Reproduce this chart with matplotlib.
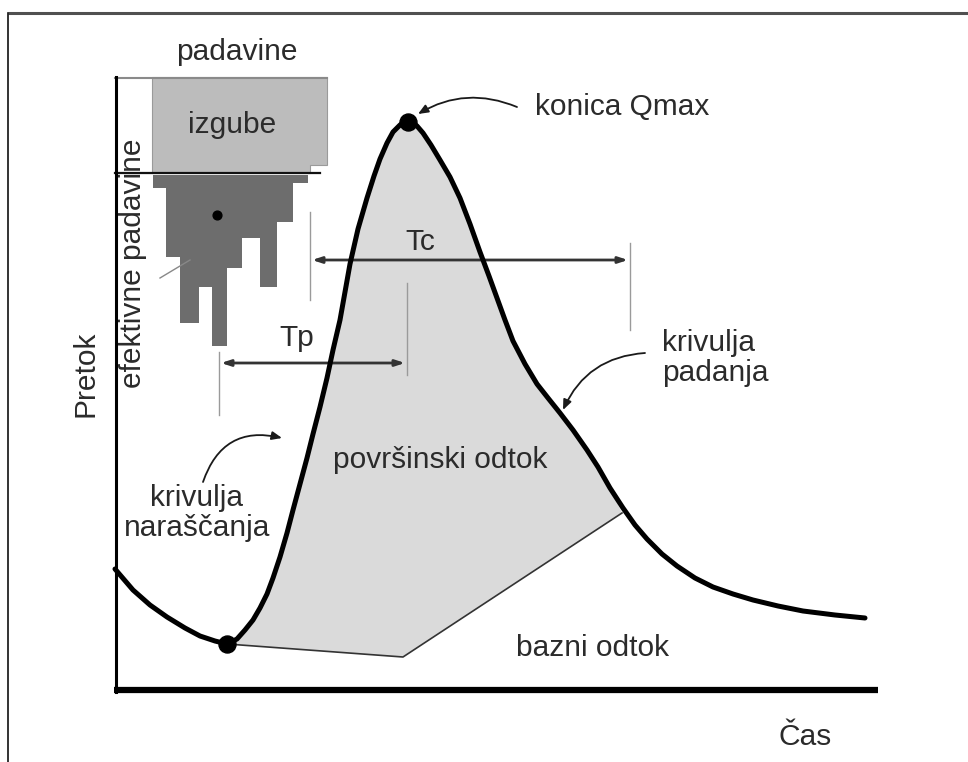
"""
Hidrogram: shematski prikaz odtoka po nalivu (padavine, izgube, Tp, Tc,
površinski in bazni odtok). Koordinate so odčitane s slike v pikslih.
"""

import matplotlib
matplotlib.use("Agg")
import matplotlib.pyplot as plt
from matplotlib.patches import Polygon

W, H = 968, 762
FONT = ["Liberation Sans", "DejaVu Sans"]
FS = 21.5
TXT = "#2b2b2b"

# Hidrogram (x, y v pikslih slike, y narašča navzdol)
curve_x = [115, 133, 150, 167, 185, 200, 215, 227, 237, 245, 253, 260, 267,
           273, 280, 287, 293, 300, 307, 313, 320, 327, 333, 340, 350, 358,
           367, 374, 380, 387, 393, 400, 404, 408, 412, 417, 423, 431, 440,
           450, 460, 470, 480, 489, 497, 505, 513, 525, 537, 548, 560, 573,
           587, 598, 610, 623, 635, 647, 662, 677, 695, 713, 733, 753, 778,
           803, 835, 865]
curve_y = [569, 590, 605, 617, 628, 636, 641, 644, 639, 630, 620, 608, 594,
           578, 557, 533, 510, 484, 458, 434, 407, 378, 350, 320, 264, 229,
           198, 176, 159, 143, 132, 125, 122, 121, 122, 126, 133, 145, 160,
           177, 198, 224, 252, 276, 298, 320, 341, 364, 384, 398, 413, 430,
           450, 467, 488, 508, 525, 539, 554, 566, 578, 587, 594, 600, 606,
           611, 615, 618]

# Ločnica baznega odtoka
base_x = [227, 403, 622]
base_y = [644, 657, 513]

# Padavine: izgube (svetlo siva) in efektivne padavine (temno siva)
loss_x = [152, 327, 327, 310, 310, 152]
loss_y = [77, 77, 165, 165, 173, 173]
eff_x = [153, 308, 308, 293, 293, 277, 277, 260, 260, 242, 242, 227, 227,
         212, 212, 199, 199, 180, 180, 166, 166, 153]
eff_y = [175, 175, 183, 183, 222, 222, 287, 287, 238, 238, 268, 268, 346,
         346, 287, 287, 323, 323, 257, 257, 188, 188]

# Točke: najnižja točka, konica Qmax, težišče efektivnih padavin
dots_x = [227, 408]
dots_y = [644, 122]
centroid = (217, 215)

# Časovni razponi (začetek, konec, višina puščice)
tc_span = (312, 628, 260)
tp_span = (221, 405, 363)
tc_ticks = [(310, 212, 300), (630, 243, 330)]
tp_ticks = [(219, 352, 415), (407, 283, 375)]


def besedilo(ax, x, y, s, **kw):
    opts = dict(fontsize=FS, color=TXT, family=FONT, ha="center", va="center")
    opts.update(kw)
    ax.text(x, y, s, **opts)


def puscica(ax, tail, head, rad):
    ax.annotate("", xy=head, xytext=tail,
                arrowprops=dict(arrowstyle="-|>,head_length=0.6,head_width=0.25",
                                connectionstyle=f"arc3,rad={rad}",
                                color="#1a1a1a", lw=1.3, shrinkA=0, shrinkB=0))


def razpon(ax, x0, x1, y):
    ax.annotate("", xy=(x1, y), xytext=(x0, y),
                arrowprops=dict(arrowstyle="<|-|>,head_length=0.55,head_width=0.18",
                                color="#333333", lw=2.0, shrinkA=0, shrinkB=0))


fig = plt.figure(figsize=(W / 100, H / 100), dpi=100)
ax = fig.add_axes([0, 0, 1, 1])
ax.set_xlim(0, W)
ax.set_ylim(H, 0)
ax.axis("off")

# okvir slike
ax.plot([8, W], [13, 13], color="#505050", lw=2.2, solid_capstyle="butt")
ax.plot([8, 8], [13, H], color="#111111", lw=1.2)

# površinski odtok (osenčeno)
fill_pts = [(x, y) for x, y in zip(curve_x, curve_y) if 227 <= x <= 622]
fill_pts += [(622, 513)] + list(zip(base_x[::-1], base_y[::-1]))
ax.add_patch(Polygon(fill_pts, closed=True, facecolor="#dadada",
                     edgecolor="none", zorder=1))
ax.plot(base_x, base_y, color="#333333", lw=1.2, zorder=2)

# padavine
ax.add_patch(Polygon(list(zip(loss_x, loss_y)), closed=True,
                     facecolor="#bcbcbc", edgecolor="#9a9a9a", lw=0.8, zorder=2))
ax.add_patch(Polygon(list(zip(eff_x, eff_y)), closed=True,
                     facecolor="#6d6d6d", edgecolor="none", zorder=2))
ax.plot([115, 327], [78, 78], color="#8a8a8a", lw=1.5, zorder=3)
ax.plot([115, 320], [173, 173], color="#111111", lw=1.6, zorder=3)
ax.plot([160, 190], [278, 260], color="#888888", lw=1.0, zorder=3)
ax.scatter(*centroid, s=40, color="black", zorder=4)

# osi
ax.plot([116, 116], [77, 692], color="black", lw=2.2, zorder=5)
ax.plot([114, 878], [690, 690], color="black", lw=4.5,
        solid_capstyle="butt", zorder=5)

# hidrogram
ax.plot(curve_x, curve_y, color="black", lw=3.6, solid_joinstyle="round",
        solid_capstyle="round", zorder=6)
ax.scatter(dots_x, dots_y, s=150, color="black", zorder=7)

# Tc in Tp
for x, y0, y1 in tc_ticks + tp_ticks:
    ax.plot([x, x], [y0, y1], color="#9a9a9a", lw=1.0, zorder=3)
razpon(ax, tc_span[0], tc_span[1], tc_span[2])
razpon(ax, tp_span[0], tp_span[1], tp_span[2])

# puščice opisov
puscica(ax, (517, 107), (418, 114), 0.25)
puscica(ax, (203, 482), (282, 438), -0.45)
puscica(ax, (645, 353), (563, 410), 0.3)

# besedila
besedilo(ax, 237, 52, "padavine")
besedilo(ax, 232, 125, "izgube")
besedilo(ax, 133, 263, "efektivne padavine", rotation=90)
besedilo(ax, 85, 374, "Pretok", rotation=90)
besedilo(ax, 535, 107, "konica Qmax", ha="left")
besedilo(ax, 420, 242, "Tc")
besedilo(ax, 297, 338, "Tp")
besedilo(ax, 662, 358, "krivulja\npadanja", ha="left", linespacing=1.05)
besedilo(ax, 440, 460, "površinski odtok")
besedilo(ax, 197, 513, "krivulja\nnaraščanja", linespacing=1.05)
besedilo(ax, 592, 648, "bazni odtok")
besedilo(ax, 805, 737, "Čas")

fig.savefig("out.png", dpi=100)
